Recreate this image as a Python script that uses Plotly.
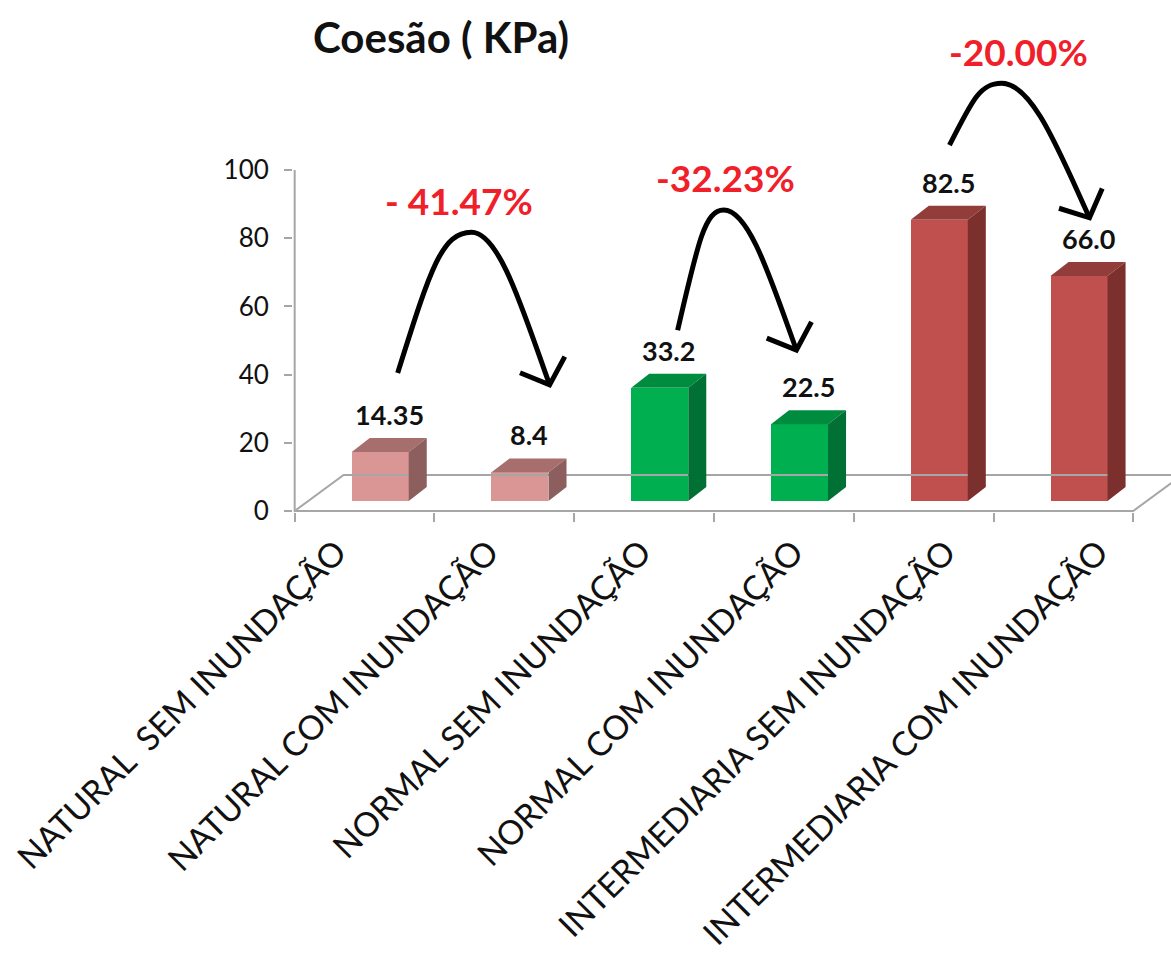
import math
import plotly.graph_objects as go

# ---- data -------------------------------------------------------------
categories = [
    "NATURAL  SEM INUNDAÇÃO",
    "NATURAL COM INUNDAÇÃO",
    "NORMAL SEM INUNDAÇÃO",
    "NORMAL COM INUNDAÇÃO",
    "INTERMEDIARIA SEM INUNDAÇÃO",
    "INTERMEDIARIA COM INUNDAÇÃO",
]
values = [14.35, 8.4, 33.2, 22.5, 82.5, 66.0]
y_ticks = [0, 20, 40, 60, 80, 100]
change_labels = ["- 41.47%", "-32.23%", "-20.00%"]

# bar face colours (front / top / side)
front_colors = ["#D99694", "#D99694", "#00B050", "#00B050", "#C0504D", "#C0504D"]
top_colors = ["#A66F6E", "#A66F6E", "#008C3E", "#008C3E", "#933D3B", "#933D3B"]
side_colors = ["#8C5E5D", "#8C5E5D", "#007034", "#007034", "#7C302E", "#7C302E"]

# hand-drawn arrows between pairs (category units, kPa)
arrow_start_x = [0.737, 2.74, 4.685]
arrow_start_y = [40.5, 53.0, 107.3]
arrow_apex_x = [1.266, 3.07, 5.057]
arrow_apex_y = [81.8, 88.3, 125.5]
arrow_tip_x = [1.824, 3.59, 5.687]
arrow_tip_y = [37.0, 47.2, 86.0]
label_xshift = [-13, 2, 17]

# ---- layout geometry ---------------------------------------------------
W, H = 1171, 955
ML, MR, MT, MB = 293, 0, 61, 443
XMIN, XMAX = -0.012, 6.27
YMIN, YMAX = -0.3, 132.0
PX_X = (W - ML - MR) / (XMAX - XMIN)
PX_Y = (H - MT - MB) / (YMAX - YMIN)

BAR_OFFSET = 0.408   # front face left edge inside each category
BAR_W = 0.408
BAR_BASE = 2.93      # front face sits a little back on the floor
DEPTH_X = 0.129
DEPTH_Y = 4.1
FLOOR_DX = 0.35
FLOOR_DY = 10.56
N = len(categories)

# slanted category labels are spread slightly wider than the columns
LABEL_START = 0.30
LABEL_STEP = 1.09

GRAY = "#A6A6A6"
FONT = "Lato"

fig = go.Figure()

# floor of the 3-D plot area
fig.add_trace(go.Scatter(
    x=[0, N, N + FLOOR_DX, FLOOR_DX, 0],
    y=[0, 0, FLOOR_DY, FLOOR_DY, 0],
    mode="lines", line=dict(color=GRAY, width=2),
    hoverinfo="skip", showlegend=False))

# value axis line
fig.add_trace(go.Scatter(
    x=[0, 0], y=[YMIN, max(y_ticks)],
    mode="lines", line=dict(color=GRAY, width=2),
    hoverinfo="skip", showlegend=False))

# front faces of the columns
bar_x = [i + BAR_OFFSET + BAR_W / 2 for i in range(N)]
fig.add_trace(go.Bar(
    x=bar_x, y=values, base=BAR_BASE, width=BAR_W,
    marker=dict(color=front_colors, line=dict(width=0)),
    showlegend=False, hoverinfo="skip"))

# top and side faces
for i, v in enumerate(values):
    x0 = i + BAR_OFFSET
    x1 = x0 + BAR_W
    b = BAR_BASE
    t = BAR_BASE + v
    fig.add_trace(go.Scatter(
        x=[x0, x1, x1 + DEPTH_X, x0 + DEPTH_X, x0],
        y=[t, t, t + DEPTH_Y, t + DEPTH_Y, t],
        fill="toself", fillcolor=top_colors[i], mode="lines",
        line=dict(width=0, color=top_colors[i]),
        hoverinfo="skip", showlegend=False))
    fig.add_trace(go.Scatter(
        x=[x1, x1 + DEPTH_X, x1 + DEPTH_X, x1, x1],
        y=[b, b + DEPTH_Y, t + DEPTH_Y, t, b],
        fill="toself", fillcolor=side_colors[i], mode="lines",
        line=dict(width=0, color=side_colors[i]),
        hoverinfo="skip", showlegend=False))
    # value label above the column
    fig.add_annotation(
        x=x0 + BAR_W / 2 + DEPTH_X / 2, y=t + DEPTH_Y,
        text=f"<b>{v}</b>", showarrow=False, yanchor="bottom", yshift=5,
        font=dict(family=FONT, size=27, color="#111111"))


# curved arrows with open heads
def to_px(dx, dy):
    return dx * PX_X, -dy * PX_Y


def to_data(px, py):
    return px / PX_X, -py / PX_Y


shapes = []
for k in range(len(change_labels)):
    xs, ys = arrow_start_x[k], arrow_start_y[k]
    xa, ya = arrow_apex_x[k], arrow_apex_y[k]
    xt, yt = arrow_tip_x[k], arrow_tip_y[k]
    c1 = (xs + 0.45 * (xa - xs), ys + 0.75 * (ya - ys))
    c2 = (xa - 0.40 * (xa - xs), ya)
    c3 = (xa + 0.35 * (xt - xa), ya)
    c4 = (xt - 0.35 * (xt - xa), yt + 0.5 * (ya - yt))
    path = (f"M {xs},{ys} C {c1[0]},{c1[1]} {c2[0]},{c2[1]} {xa},{ya} "
            f"C {c3[0]},{c3[1]} {c4[0]},{c4[1]} {xt},{yt}")
    shapes.append(dict(type="path", path=path, xref="x", yref="y",
                       line=dict(color="black", width=5)))
    # arrow head
    tx, ty = to_px(xt - c4[0], yt - c4[1])
    n = math.hypot(tx, ty)
    rx, ry = -tx / n, -ty / n
    head = []
    for ang in (math.radians(48), math.radians(-48)):
        hx = rx * math.cos(ang) - ry * math.sin(ang)
        hy = rx * math.sin(ang) + ry * math.cos(ang)
        ddx, ddy = to_data(hx * 32, hy * 32)
        head.append((xt + ddx, yt + ddy))
    hpath = (f"M {head[0][0]},{head[0][1]} L {xt},{yt} L {head[1][0]},{head[1][1]}")
    shapes.append(dict(type="path", path=hpath, xref="x", yref="y",
                       line=dict(color="black", width=5)))
    fig.add_annotation(
        x=xa, y=ya, text=f"<b>{change_labels[k]}</b>", showarrow=False,
        yanchor="middle", yshift=32, xshift=label_xshift[k],
        font=dict(family=FONT, size=37, color="#F0202A"))

fig.update_layout(
    width=W, height=H,
    margin=dict(l=ML, r=MR, t=MT, b=MB, autoexpand=False),
    paper_bgcolor="white", plot_bgcolor="white",
    shapes=shapes,
    bargap=0,
    title=dict(text="<b>Coesão ( KPa)</b>", x=313 / W, xanchor="left",
               y=1 - 38 / H, yanchor="middle", xref="container", yref="container",
               font=dict(family=FONT, size=42, color="#111111")),
    xaxis=dict(
        range=[XMIN, XMAX], showgrid=False, zeroline=False, showline=False,
        automargin=False,
        tickmode="array",
        tickvals=[LABEL_START + LABEL_STEP * i for i in range(N)],
        ticktext=categories, ticklabelstandoff=13,
        tickangle=-45, ticks="", tickfont=dict(family=FONT, size=33.5, color="#111111"),
        minor=dict(tickmode="linear", tick0=0, dtick=1, ticks="outside",
                   ticklen=9, tickwidth=2, tickcolor=GRAY),
    ),
    yaxis=dict(
        range=[YMIN, YMAX], showgrid=False, zeroline=False, showline=False,
        automargin=False,
        tickmode="array", tickvals=y_ticks, ticks="outside", ticklen=8,
        tickwidth=2, tickcolor=GRAY, ticklabelstandoff=10,
        tickfont=dict(family=FONT, size=26, color="#111111"),
    ),
)

fig.write_html("out.html")
